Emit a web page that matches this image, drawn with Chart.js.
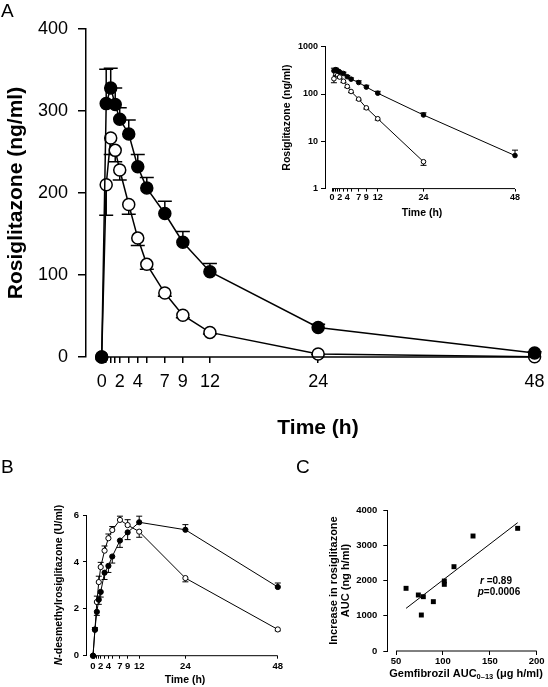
<!DOCTYPE html>
<html>
<head>
<meta charset="utf-8">
<script src="https://cdn.jsdelivr.net/npm/chart.js@4.4.1/dist/chart.umd.min.js"></script>
<style>
  html, body { margin: 0; padding: 0; background: #fff; }
  #wrap { position: relative; width: 548px; height: 687px; overflow: hidden; background: #fff; }
  canvas { position: absolute; }
</style>
</head>
<body>
<div id="wrap">
  <canvas id="cA" width="548" height="455" style="left:0;top:0"></canvas>
  <canvas id="cIn" width="278" height="210" style="left:270px;top:20px"></canvas>
  <canvas id="cB" width="290" height="232" style="left:0;top:455px"></canvas>
  <canvas id="cC" width="258" height="232" style="left:290px;top:455px"></canvas>
</div>
<script>
// ---------------- DATA ----------------
const times = [0, 0.5, 1, 1.5, 2, 3, 4, 5, 7, 9, 12, 24, 48];
const timeLabels = [0, 2, 4, 7, 9, 12, 24, 48];

// Panel A: rosiglitazone (ng/ml); filled = gemfibrozil, open = placebo
const rosiGem     = [0, 309, 328, 308, 290, 272, 232, 206, 175, 140, 104, 36, 5];
const rosiGemErr  = [0, 42, 24, 20, 14, 17, 15, 13, 15, 13, 10, 4, 1.5];
const rosiPlac    = [0, 210, 267, 252, 228, 186, 145, 113, 78, 51, 30, 3.7, 0.4];
const rosiPlacErr = [0, -37, -20, -14, -12, -12, -9, -6, -4, -3, -2, -0.6, 0];
const yTicksA = [0, 100, 200, 300, 400];
const yTicksInset = [1, 10, 100, 1000];

// Panel B: N-desmethylrosiglitazone (U/ml)
const desGem     = [0, 1.12, 1.87, 2.39, 2.72, 3.54, 3.83, 4.23, 4.91, 5.26, 5.69, 5.37, 2.93];
const desGemErr  = [0, 0, -0.15, -0.2, -0.22, -0.29, -0.28, -0.28, -0.29, -0.31, 0.26, 0.22, 0.17];
const desPlac    = [0, 1.1, 2.29, 3.14, 3.78, 4.48, 5.01, 5.36, 5.79, 5.57, 5.29, 3.31, 1.12];
const desPlacErr = [0, 0.1, 0.25, 0.25, 0.2, 0.2, 0.18, 0.15, 0.16, 0.23, -0.24, -0.16, -0.06];
const yTicksB = [0, 2, 4, 6];

// Panel C: gemfibrozil AUC vs increase in rosiglitazone AUC
const gemAUC      = [60.7, 73.8, 77, 79.1, 89.8, 101.5, 101.5, 111.8, 132.1, 179.7];
const aucIncrease = [1778, 1589, 1021, 1541, 1400, 1986, 1891, 2392, 3262, 3480];
const regLineX = [60.7, 179.7];
const regLineY = [1210, 3640];
const xTicksC = [50, 100, 150, 200];
const yTicksC = [0, 1000, 2000, 3000, 4000];

// ---------------- HELPERS ----------------
const FAM = '"Liberation Sans", Arial, Helvetica, sans-serif';
const pts = (xs, ys) => xs.map((x, i) => ({ x: x, y: ys[i] }));

function drawRich(ctx, item) {
  ctx.save();
  ctx.translate(item.x, item.y);
  if (item.rot) ctx.rotate(item.rot);
  ctx.textBaseline = 'middle';
  ctx.textAlign = 'left';
  ctx.fillStyle = '#000';
  let w = 0;
  item.segs.forEach(s => { ctx.font = s.font; w += ctx.measureText(s.t).width; });
  let x = item.align === 'left' ? 0 : (item.align === 'right' ? -w : -w / 2);
  item.segs.forEach(s => {
    ctx.font = s.font;
    ctx.fillText(s.t, x, s.dy || 0);
    x += ctx.measureText(s.t).width;
  });
  ctx.restore();
}

const textPlugin = {
  id: 'texts',
  afterDraw(chart, args, opts) {
    (opts.items || []).forEach(it => drawRich(chart.ctx, it));
  }
};

const axisLinePlugin = {
  id: 'axisLine',
  afterDraw(chart, args, opts) {
    if (opts.from === undefined) return;
    const xs = chart.scales.x, ys = chart.scales.y, ctx = chart.ctx;
    const y = ys.getPixelForValue(ys.min);
    ctx.save();
    ctx.strokeStyle = '#000';
    ctx.lineWidth = opts.width || 1;
    ctx.beginPath();
    ctx.moveTo(xs.getPixelForValue(opts.from), y);
    ctx.lineTo(xs.getPixelForValue(opts.to), y);
    ctx.stroke();
    ctx.restore();
  }
};

const errorBarPlugin = {
  id: 'errorBars',
  beforeDatasetsDraw(chart, args, opts) {
    const xs = chart.scales.x, ys = chart.scales.y, ctx = chart.ctx;
    (opts.sets || []).forEach(set => {
      ctx.save();
      ctx.strokeStyle = '#000';
      ctx.lineWidth = set.lw;
      set.x.forEach((xv, i) => {
        const v = set.y[i], e = set.err[i];
        if (v == null || !e) return;
        if (v < ys.min) return;
        const px = xs.getPixelForValue(xv);
        const p0 = ys.getPixelForValue(v);
        const p1 = ys.getPixelForValue(v + e);
        ctx.beginPath();
        ctx.moveTo(px, p0); ctx.lineTo(px, p1);
        ctx.moveTo(px - set.cap / 2, p1); ctx.lineTo(px + set.cap / 2, p1);
        ctx.stroke();
      });
      ctx.restore();
    });
  }
};

Chart.register(textPlugin, axisLinePlugin, errorBarPlugin);

function noPad(s) { s.paddingLeft = 0; s.paddingRight = 0; s.paddingTop = 0; s.paddingBottom = 0; }

function lineSet(xs, ys, filled, r, bw) {
  return {
    data: pts(xs, ys),
    borderColor: '#000',
    borderWidth: bw,
    backgroundColor: filled ? '#000' : '#fff',
    pointRadius: r,
    pointBorderWidth: bw,
    pointBorderColor: '#000',
    pointBackgroundColor: filled ? '#000' : '#fff',
    pointStyle: 'circle',
    tension: 0,
    fill: false,
    clip: false,
    spanGaps: false
  };
}

function baseOptions(padding) {
  return {
    responsive: false,
    animation: false,
    devicePixelRatio: 1,
    events: [],
    layout: { padding: padding },
    plugins: { legend: { display: false }, tooltip: { enabled: false } }
  };
}

// ---------------- PANEL A (main) ----------------
(function () {
  const o = baseOptions({ top: 29, right: 13.4, left: 0, bottom: 0 });
  o.scales = {
    x: {
      type: 'linear', min: -1.74, max: 48,
      afterBuildTicks: s => { s.ticks = times.map(v => ({ value: v })); },
      afterFit: s => { s.height = 98; noPad(s); },
      ticks: { autoSkip: false, maxRotation: 0, minRotation: 0, padding: 8, color: '#000',
        font: { family: FAM, size: 18 },
        callback: v => timeLabels.includes(v) ? String(v) : '' },
      grid: { display: true, drawOnChartArea: false, drawTicks: true, tickLength: 6, color: '#000', lineWidth: 1.5 },
      border: { display: false }
    },
    y: {
      type: 'linear', min: 0, max: 400,
      afterBuildTicks: s => { s.ticks = yTicksA.map(v => ({ value: v })); },
      afterFit: s => { s.width = 86; noPad(s); },
      ticks: { padding: 10, color: '#000', font: { family: FAM, size: 18 }, callback: v => String(v) },
      grid: { display: true, drawOnChartArea: false, drawTicks: true, tickLength: 8, color: '#000', lineWidth: 1.5 },
      border: { display: true, color: '#000', width: 1.5 }
    }
  };
  o.plugins.axisLine = { from: 0, to: 48, width: 1.5 };
  o.plugins.errorBars = { sets: [
    { x: times, y: rosiGem, err: rosiGemErr, lw: 1.5, cap: 14 },
    { x: times, y: rosiPlac, err: rosiPlacErr, lw: 1.5, cap: 14 }
  ] };
  o.plugins.texts = { items: [
    { x: 1, y: 12, align: 'left', segs: [{ t: 'A', font: '19px ' + FAM }] },
    { x: 16, y: 193, rot: -Math.PI / 2, segs: [{ t: 'Rosiglitazone (ng/ml)', font: 'bold 21px ' + FAM }] },
    { x: 318, y: 428, segs: [{ t: 'Time (h)', font: 'bold 21px ' + FAM }] }
  ] };
  new Chart(document.getElementById('cA'), {
    type: 'line',
    data: { datasets: [
      lineSet(times, rosiGem, true, 6, 1.5),
      lineSet(times, rosiPlac, false, 6, 1.5)
    ] },
    options: o
  });
})();

// ---------------- PANEL A (inset, log) ----------------
(function () {
  const logVal = arr => arr.map(v => (v >= 1 ? v : null));
  const o = baseOptions({ top: 26.7, right: 33, left: 0, bottom: 0 });
  o.scales = {
    x: {
      type: 'linear', min: -1.84, max: 48,
      afterBuildTicks: s => { s.ticks = times.map(v => ({ value: v })); },
      afterFit: s => { s.height = 41.4; noPad(s); },
      ticks: { autoSkip: false, maxRotation: 0, minRotation: 0, padding: 1, color: '#000',
        font: { family: FAM, size: 9, weight: 'bold' },
        callback: v => timeLabels.includes(v) ? String(v) : '' },
      grid: { display: true, drawOnChartArea: false, drawTicks: true, tickLength: 3, color: '#000', lineWidth: 1 },
      border: { display: false }
    },
    y: {
      type: 'logarithmic', min: 1, max: 1000,
      afterBuildTicks: s => { s.ticks = yTicksInset.map(v => ({ value: v })); },
      afterFit: s => { s.width = 55; noPad(s); },
      ticks: { padding: 3, color: '#000', font: { family: FAM, size: 9, weight: 'bold' },
        callback: v => String(v) },
      grid: { display: true, drawOnChartArea: false, drawTicks: true, tickLength: 4, color: '#000', lineWidth: 1 },
      border: { display: true, color: '#000', width: 1 }
    }
  };
  o.plugins.axisLine = { from: 0, to: 48, width: 1 };
  o.plugins.errorBars = { sets: [
    { x: times, y: logVal(rosiGem), err: rosiGemErr, lw: 1, cap: 6 },
    { x: times, y: logVal(rosiPlac), err: rosiPlacErr, lw: 1, cap: 6 }
  ] };
  o.plugins.texts = { items: [
    { x: 17, y: 97.6, rot: -Math.PI / 2, segs: [{ t: 'Rosiglitazone (ng/ml)', font: 'bold 10.5px ' + FAM }] },
    { x: 152, y: 192.7, segs: [{ t: 'Time (h)', font: 'bold 10.5px ' + FAM }] }
  ] };
  new Chart(document.getElementById('cIn'), {
    type: 'line',
    data: { datasets: [
      lineSet(times, logVal(rosiGem), true, 2.3, 1),
      lineSet(times, logVal(rosiPlac), false, 2.3, 1)
    ] },
    options: o
  });
})();

// ---------------- PANEL B ----------------
(function () {
  const o = baseOptions({ top: 60, right: 12.2, left: 0, bottom: 0 });
  o.scales = {
    x: {
      type: 'linear', min: -1.82, max: 48,
      afterBuildTicks: s => { s.ticks = times.map(v => ({ value: v })); },
      afterFit: s => { s.height = 31.3; noPad(s); },
      ticks: { autoSkip: false, maxRotation: 0, minRotation: 0, padding: 2, color: '#000',
        font: { family: FAM, size: 9.5, weight: 'bold' },
        callback: v => timeLabels.includes(v) ? String(v) : '' },
      grid: { display: true, drawOnChartArea: false, drawTicks: true, tickLength: 3, color: '#000', lineWidth: 1 },
      border: { display: false }
    },
    y: {
      type: 'linear', min: 0, max: 6,
      afterBuildTicks: s => { s.ticks = yTicksB.map(v => ({ value: v })); },
      afterFit: s => { s.width = 86; noPad(s); },
      ticks: { padding: 4, color: '#000', font: { family: FAM, size: 9.5, weight: 'bold' }, callback: v => String(v) },
      grid: { display: true, drawOnChartArea: false, drawTicks: true, tickLength: 3, color: '#000', lineWidth: 1 },
      border: { display: true, color: '#000', width: 1 }
    }
  };
  o.plugins.axisLine = { from: 0, to: 48, width: 1 };
  o.plugins.errorBars = { sets: [
    { x: times, y: desGem, err: desGemErr, lw: 1, cap: 6 },
    { x: times, y: desPlac, err: desPlacErr, lw: 1, cap: 6 }
  ] };
  o.plugins.texts = { items: [
    { x: 1, y: 13, align: 'left', segs: [{ t: 'B', font: '19px ' + FAM }] },
    { x: 59, y: 130, rot: -Math.PI / 2, segs: [
      { t: 'N', font: 'italic bold 10.5px ' + FAM },
      { t: '-desmethylrosiglitazone (U/ml)', font: 'bold 10.5px ' + FAM }] },
    { x: 185, y: 225, segs: [{ t: 'Time (h)', font: 'bold 10.5px ' + FAM }] }
  ] };
  new Chart(document.getElementById('cB'), {
    type: 'line',
    data: { datasets: [
      lineSet(times, desGem, true, 2.6, 1),
      lineSet(times, desPlac, false, 2.6, 1)
    ] },
    options: o
  });
})();

// ---------------- PANEL C ----------------
(function () {
  const o = baseOptions({ top: 55, right: 11.3, left: 0, bottom: 0 });
  o.scales = {
    x: {
      type: 'linear', min: 40.7, max: 200,
      afterBuildTicks: s => { s.ticks = xTicksC.map(v => ({ value: v })); },
      afterFit: s => { s.height = 36; noPad(s); },
      ticks: { autoSkip: false, maxRotation: 0, minRotation: 0, padding: 1, color: '#000',
        font: { family: FAM, size: 9.5, weight: 'bold' }, callback: v => String(v) },
      grid: { display: true, drawOnChartArea: false, drawTicks: true, tickLength: 4, color: '#000', lineWidth: 1 },
      border: { display: false }
    },
    y: {
      type: 'linear', min: 0, max: 4000,
      afterBuildTicks: s => { s.ticks = yTicksC.map(v => ({ value: v })); },
      afterFit: s => { s.width = 97.3; noPad(s); },
      ticks: { padding: 6, color: '#000', font: { family: FAM, size: 9.5, weight: 'bold' }, callback: v => String(v) },
      grid: { display: true, drawOnChartArea: false, drawTicks: true, tickLength: 4, color: '#000', lineWidth: 1 },
      border: { display: true, color: '#000', width: 1 }
    }
  };
  o.plugins.axisLine = { from: 50, to: 200, width: 1 };
  o.plugins.texts = { items: [
    { x: 6, y: 13, align: 'left', segs: [{ t: 'C', font: '19px ' + FAM }] },
    { x: 44, y: 125.5, rot: -Math.PI / 2, segs: [{ t: 'Increase in rosiglitazone', font: 'bold 11px ' + FAM }] },
    { x: 56, y: 125.5, rot: -Math.PI / 2, segs: [{ t: 'AUC (ng h/ml)', font: 'bold 11px ' + FAM }] },
    { x: 176, y: 219, segs: [
      { t: 'Gemfibrozil AUC', font: 'bold 11px ' + FAM },
      { t: '0\u201313', font: 'bold 7.5px ' + FAM, dy: 3 },
      { t: ' (\u03bcg h/ml)', font: 'bold 11px ' + FAM }] },
    { x: 190, y: 126.7, align: 'left', segs: [
      { t: 'r', font: 'italic bold 10px ' + FAM },
      { t: ' =0.89', font: 'bold 10px ' + FAM }] },
    { x: 187.7, y: 137.3, align: 'left', segs: [
      { t: 'p', font: 'italic bold 10px ' + FAM },
      { t: '=0.0006', font: 'bold 10px ' + FAM }] }
  ] };
  new Chart(document.getElementById('cC'), {
    type: 'line',
    data: { datasets: [
      { data: pts(gemAUC, aucIncrease), showLine: false, pointStyle: 'rect', pointRadius: 3.5,
        pointBorderWidth: 0, pointBackgroundColor: '#000', pointBorderColor: '#000', borderColor: '#000', clip: false },
      { data: pts(regLineX, regLineY), borderColor: '#000', borderWidth: 1, pointRadius: 0, tension: 0, fill: false, clip: false }
    ] },
    options: o
  });
})();
</script>
</body>
</html>
